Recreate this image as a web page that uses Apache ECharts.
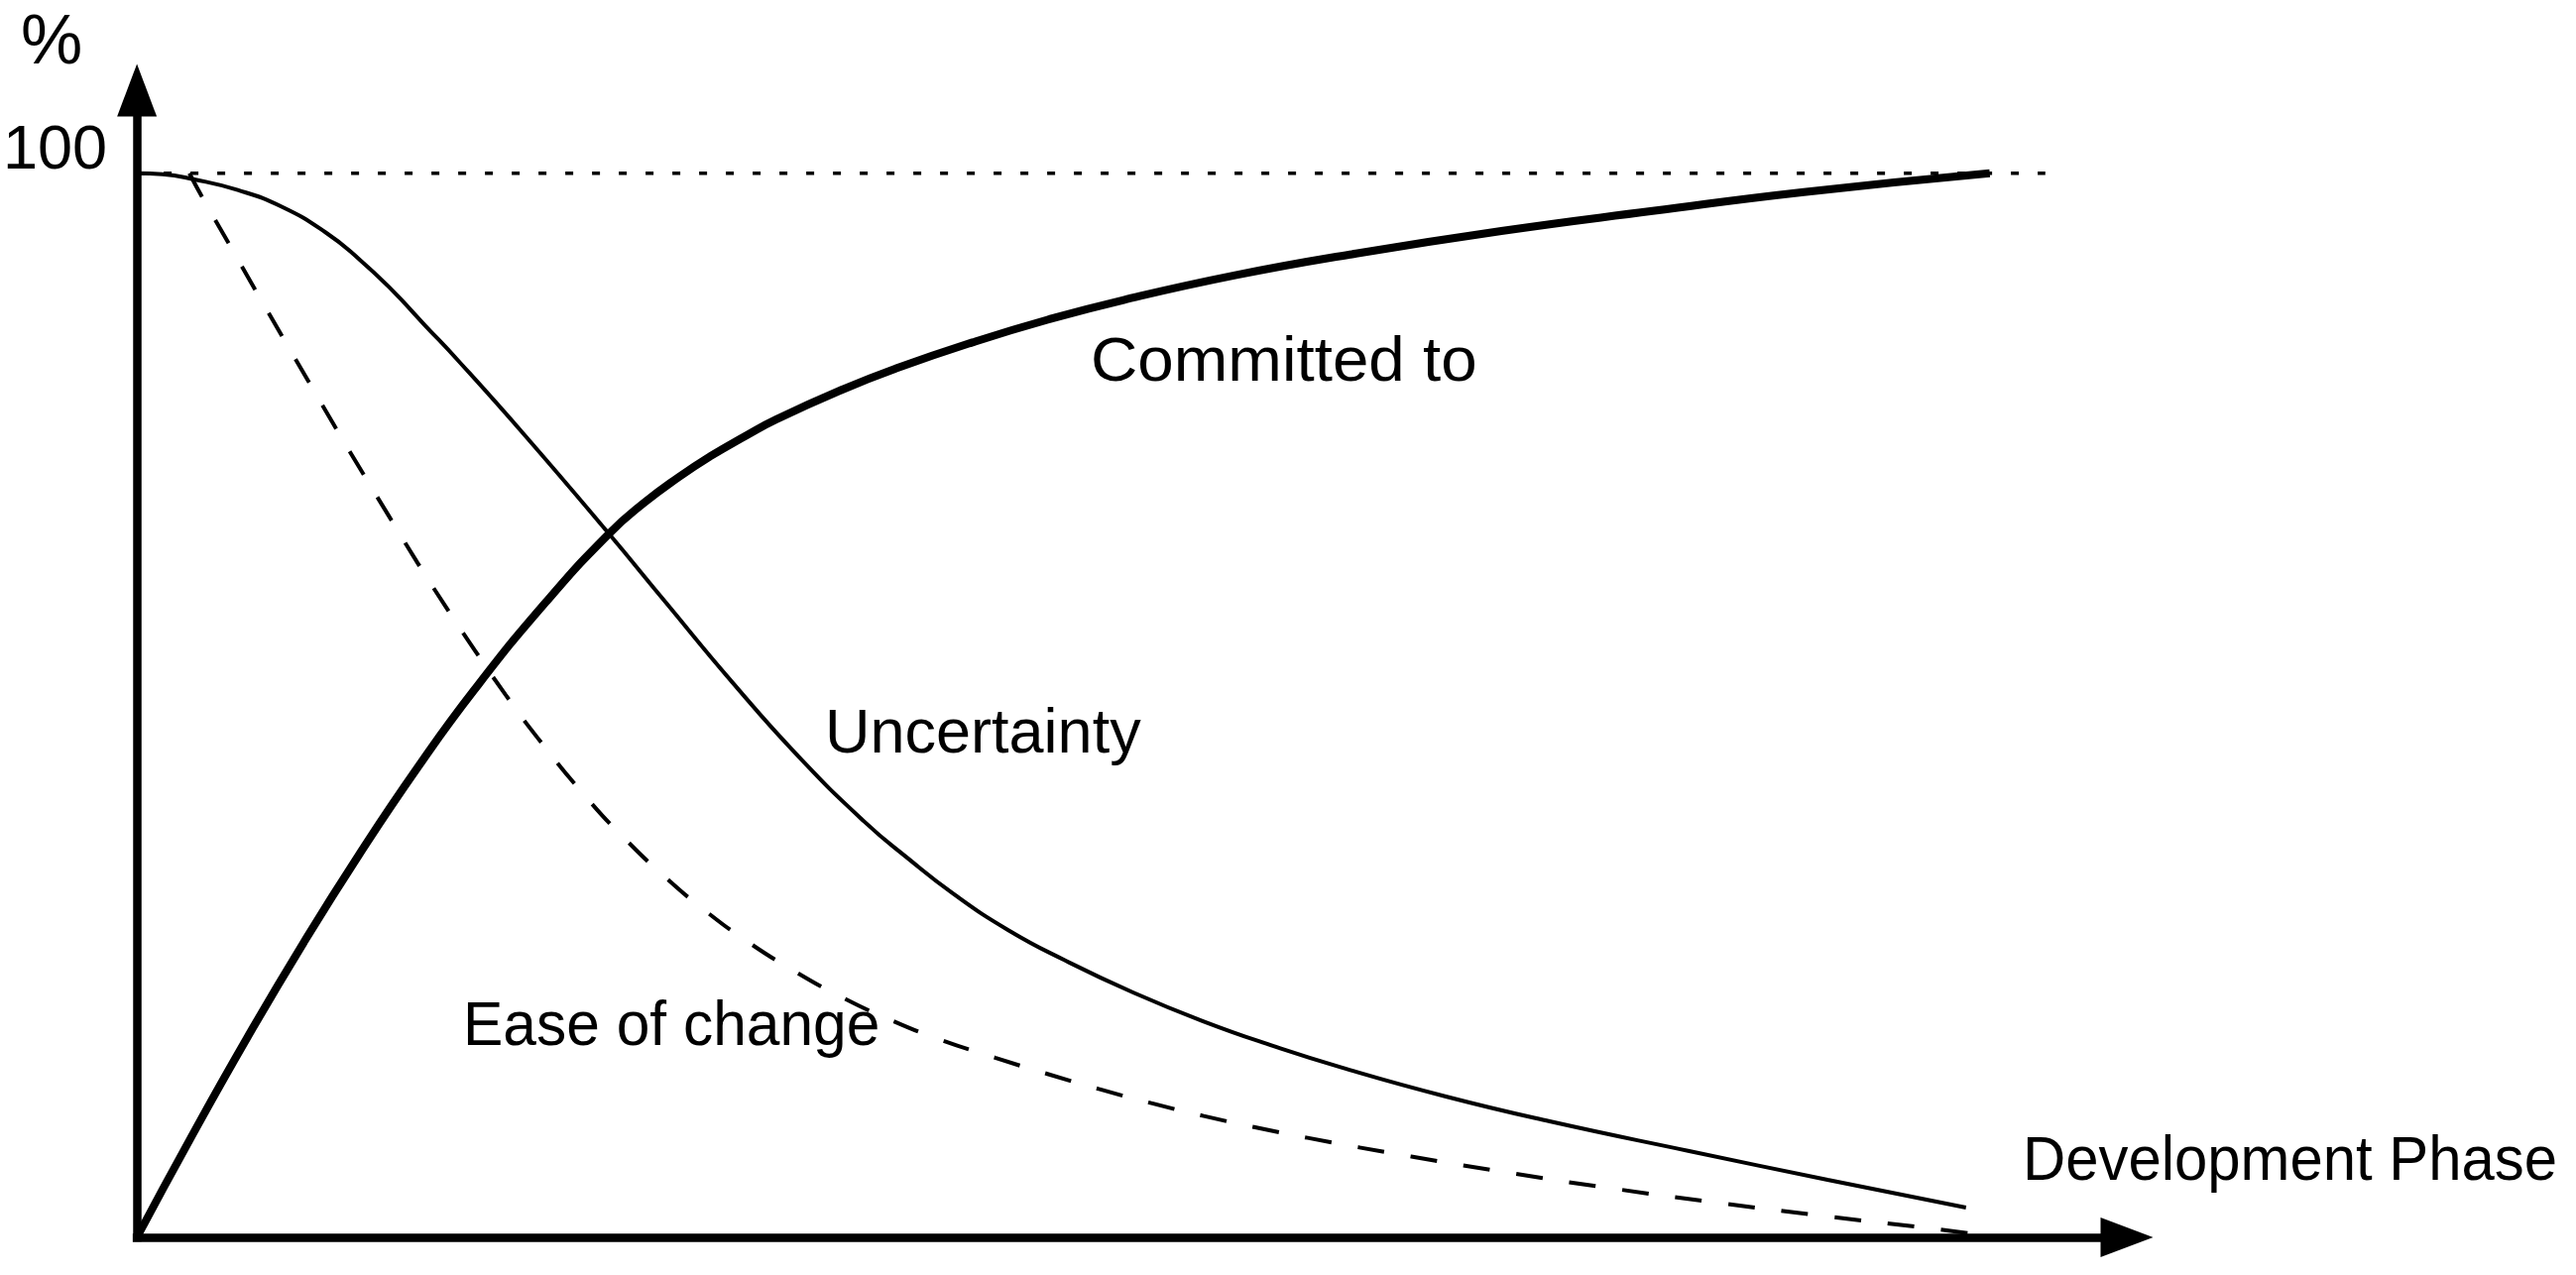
<!DOCTYPE html>
<html><head><meta charset="utf-8">
<script src="https://cdn.jsdelivr.net/npm/echarts@6/dist/echarts.min.js"></script>
<style>html,body{margin:0;padding:0;background:#fff}#c{width:2598px;height:1286px}</style>
</head><body><div id="c"></div>
<script>
// Development phase (0..100 = end of the curves) and percentage values
const committedX = [0, 2.88, 5.98, 9.02, 12.06, 15.15, 18.20, 22.09, 25.45, 27.37, 29.24, 30.95, 32.82, 34.52, 38.10, 40.98, 45.09, 49.15, 53.26, 59.34, 65.47, 73.64, 81.80, 89.97, 100];
const committedY = [0, 9.26, 18.84, 27.76, 36.15, 44.15, 51.43, 59.73, 66.07, 69.02, 71.44, 73.40, 75.29, 76.88, 79.69, 81.66, 84.10, 86.23, 88.09, 90.43, 92.36, 94.57, 96.45, 98.23, 100];

const uncertaintyX = [0, 1.39, 3.04, 5.44, 7.84, 10.19, 11.95, 13.77, 15.53, 17.34, 20.92, 25.45, 28.55, 32.12, 35.70, 39.27, 41.62, 44.02, 47.01, 50.05, 53.79, 57.58, 61.31, 65.05, 70.65, 76.25, 83.78, 91.25, 98.72];
const uncertaintyY = [100, 99.91, 99.44, 98.42, 96.83, 94.43, 91.99, 89.01, 85.74, 82.39, 75.40, 66.17, 59.65, 52.19, 45.20, 39.05, 35.60, 32.34, 28.89, 26.06, 22.99, 20.28, 17.99, 15.94, 13.23, 10.90, 8.11, 5.41, 2.80];

const easeX = [2.83, 3.52, 4.96, 6.40, 7.84, 9.23, 10.67, 12.11, 13.61, 15.15, 16.70, 18.25, 19.90, 21.61, 24.33, 26.31, 28.44, 30.63, 32.92, 35.38, 37.94, 40.55, 43.17, 46.32, 49.15, 51.92, 54.75, 57.58, 60.35, 63.18, 68.78, 74.39, 80.04, 85.65, 91.25, 97.23, 100.53];
const easeY = [100, 97.76, 93.38, 89.00, 84.67, 80.52, 76.24, 72.04, 67.75, 63.37, 59.18, 55.13, 50.98, 46.97, 41.19, 37.50, 33.96, 30.75, 27.83, 25.13, 22.66, 20.52, 18.69, 16.88, 15.35, 13.94, 12.61, 11.40, 10.34, 9.35, 7.59, 5.97, 4.49, 3.17, 1.96, 0.75, 0];

const guideX = [0, 103.0];
const guideY = [100, 100];

const yTickLabels = [100];

const labels = {
  yUnit: '%',
  xName: 'Development Phase',
  committed: 'Committed to',
  uncertainty: 'Uncertainty',
  ease: 'Ease of change'
};

const FONT = '"Liberation Sans", Arial, sans-serif';
const FS = 63;
function pairs(xs, ys) { return xs.map((x, i) => [x, ys[i]]); }

const chart = echarts.init(document.getElementById('c'), null, { renderer: 'canvas' });
const axisLineStyle = { color: '#000', width: 8.5, cap: 'square' };
function textEl(text, x, y, align, size, sx) {
  return {
    type: 'text', x: x, y: y, scaleX: sx || 1, silent: true,
    style: { text: text, fill: '#000', font: (size || FS) + 'px ' + FONT,
      align: align, verticalAlign: 'middle', textAlign: align, textVerticalAlign: 'middle' }
  };
}
chart.setOption({
  animation: false,
  backgroundColor: '#fff',
  grid: { left: 132, right: 453, top: 91, bottom: 38, containLabel: false },
  xAxis: {
    type: 'value', min: 0, max: 107.4,
    axisLine: { show: true, onZero: false, symbol: ['none', 'triangle'], symbolSize: [40, 53], lineStyle: axisLineStyle },
    axisTick: { show: false }, axisLabel: { show: false }, splitLine: { show: false }
  },
  yAxis: {
    type: 'value', min: 0, max: 107.8,
    axisLine: { show: true, onZero: false, symbol: ['none', 'triangle'], symbolSize: [40, 53], lineStyle: axisLineStyle },
    axisTick: { show: false },
    axisLabel: { show: true, customValues: yTickLabels, margin: 30, fontSize: FS, fontFamily: FONT, color: '#000', verticalAlign: 'bottom', lineHeight: 44 },
    splitLine: { show: false }
  },
  series: [
    { name: 'guide', type: 'line', data: pairs(guideX, guideY), symbol: 'none', silent: true, z: 1,
      lineStyle: { color: '#000', width: 3.5, type: [8, 19] } },
    { name: labels.ease, type: 'line', data: pairs(easeX, easeY), symbol: 'none', smooth: 0.5, silent: true,
      lineStyle: { color: '#000', width: 4, type: [27, 27] } },
    { name: labels.uncertainty, type: 'line', data: pairs(uncertaintyX, uncertaintyY), symbol: 'none', smooth: 0.5, silent: true,
      lineStyle: { color: '#000', width: 4 } },
    { name: labels.committed, type: 'line', data: pairs(committedX, committedY), symbol: 'none', smooth: 0.5, silent: true,
      lineStyle: { color: '#000', width: 8 } }
  ],
  graphic: [
    textEl(labels.yUnit, 52, 45, 'center', 70),
    textEl(labels.xName, 2040, 1173, 'left', FS, 0.95),
    textEl(labels.committed, 1100, 367, 'left', FS, 1.04),
    textEl(labels.uncertainty, 832, 742, 'left', FS, 1.0),
    textEl(labels.ease, 467, 1037, 'left', FS, 0.96)
  ]
});
</script>
</body></html>
